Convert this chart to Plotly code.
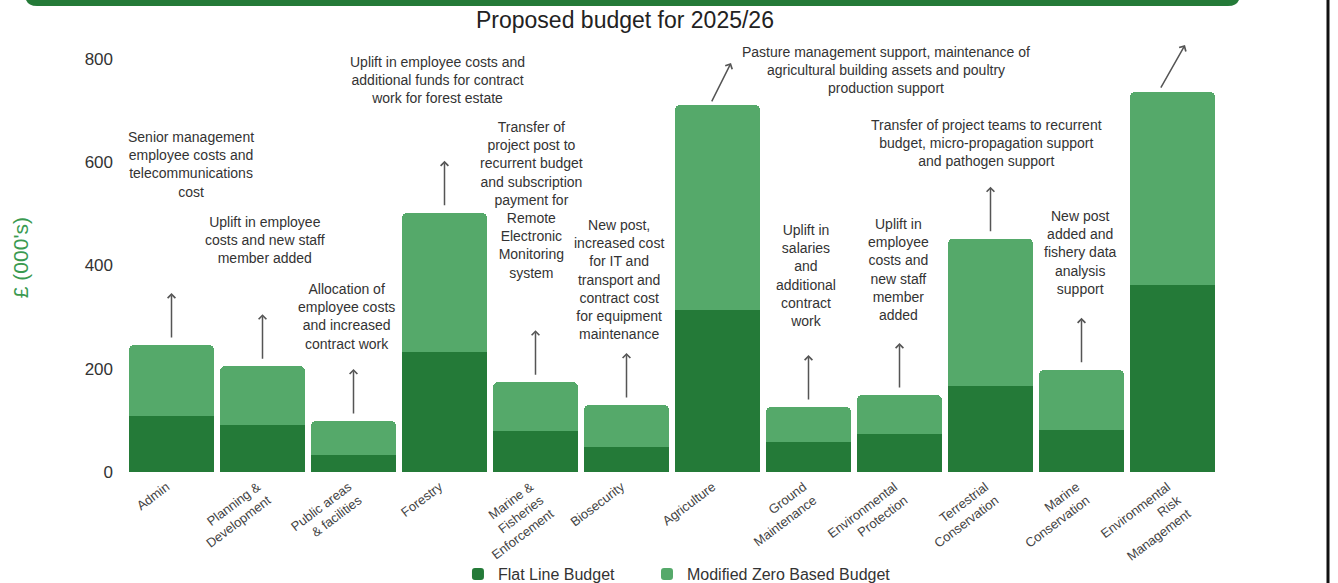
import plotly.graph_objects as go

categories = ["Admin", "Planning &<br>Development", "Public areas<br>& facilities", "Forestry",
              "Marine &<br>Fisheries<br>Enforcement", "Biosecurity", "Agriculture",
              "Ground<br>Maintenance", "Environmental<br>Protection", "Terrestrial<br>Conservation",
              "Marine<br>Conservation", "Environmental<br>Risk<br>Management"]
flat_line = [108, 91, 33, 232, 79, 48, 314, 58, 74, 167, 81, 362]
modified_zero = [138, 114, 66, 270, 95, 82, 397, 68, 75, 285, 117, 374]

notes = [
    "Senior management<br>employee costs and<br>telecommunications<br>cost",
    "Uplift in employee<br>costs and new staff<br>member added",
    "Allocation of<br>employee costs<br>and increased<br>contract work",
    "Uplift in employee costs and<br>additional funds for contract<br>work for forest estate",
    "Transfer of<br>project post to<br>recurrent budget<br>and subscription<br>payment for<br>Remote<br>Electronic<br>Monitoring<br>system",
    "New post,<br>increased cost<br>for IT and<br>transport and<br>contract cost<br>for equipment<br>maintenance",
    "Pasture management support, maintenance of<br>agricultural building assets and poultry<br>production support",
    "Uplift in<br>salaries<br>and<br>additional<br>contract<br>work",
    "Uplift in<br>employee<br>costs and<br>new staff<br>member<br>added",
    "Transfer of project teams to recurrent<br>budget, micro-propagation support<br>and pathogen support",
    "New post<br>added and<br>fishery data<br>analysis<br>support",
    "Increased overtime<br>budget and additional<br>transport",
]

# layout helpers (pixel offsets / label positions)
note_xshift = [19.5, 2, -7.5, -7, -4, -7.5, 168.5, -3, -1, -4, -1.5, 83.5]
note_y = [596.6, 449, 302, 759, 526, 373, 779, 381.6, 393, 638, 425, 838]
arrow_dx = [0, 0, 0, 0, 0, 0, 13.5, 0, 0, 0, 0, 12.5]
arrow_dy = [52, 52, 52, 52, 52, 52, 42, 52, 52, 52, 52, 47]
arrow_ax = [0, 0, 0, 0, 0, 0, -20, 0, 0, 0, 0, -25]
arrow_ay = [46, 46, 46, 46, 46, 46, 40, 46, 46, 46, 46, 44]

DARK = "#247a38"
LIGHT = "#55a96a"
FONT = "Liberation Sans, Arial, sans-serif"

fig = go.Figure()
fig.add_trace(go.Bar(x=categories, y=flat_line, name="Flat Line Budget", legend="legend",
                     marker=dict(color=DARK, line=dict(width=0))))
fig.add_trace(go.Bar(x=categories, y=modified_zero, name="Modified Zero Based Budget",
                     legend="legend2", marker=dict(color=LIGHT, line=dict(width=0))))

totals = [a + b for a, b in zip(flat_line, modified_zero)]
annotations = []
for i, cat in enumerate(categories):
    annotations.append(dict(x=cat, y=totals[i], xref="x", yref="y", text="",
                            showarrow=True, arrowhead=4, arrowsize=1, arrowwidth=1.5,
                            arrowcolor="#555555", ax=arrow_ax[i], ay=arrow_ay[i],
                            xshift=arrow_dx[i], yshift=arrow_dy[i]))
    annotations.append(dict(x=cat, y=note_y[i], xref="x", yref="y", text=notes[i],
                            showarrow=False, xshift=note_xshift[i], align="center",
                            xanchor="center", yanchor="middle",
                            font=dict(family=FONT, size=14, color="#333333")))

annotations.append(dict(x=0.457, y=1.094, xref="paper", yref="paper",
                        text="Proposed budget for 2025/26", showarrow=False,
                        xanchor="center", yanchor="middle",
                        font=dict(family=FONT, size=23, color="#222222")))
annotations.append(dict(x=-0.097, y=0.518, xref="paper", yref="paper",
                        text="£ (000's)", showarrow=False, textangle=-90,
                        xanchor="center", yanchor="middle",
                        font=dict(family=FONT, size=21, color="#3a9a50")))

shapes = [
    dict(type="path", xref="paper", yref="paper", xsizemode="pixel", ysizemode="pixel",
         xanchor=0, yanchor=1,
         path="M -101,90 L -101,65 Q -101,53 -89,53 L 1102,53 Q 1114,53 1114,65 L 1114,90 Z",
         fillcolor=DARK, line=dict(width=0)),
    dict(type="line", xref="paper", yref="paper", xsizemode="pixel", xanchor=0,
         x0=1202, x1=1202, y0=-0.4, y1=1.4, line=dict(color="#111111", width=3)),
]

legend_font = dict(family=FONT, size=16, color="#333333")
fig.update_layout(
    width=1338, height=583,
    margin=dict(l=126, r=120, t=59, b=111, autoexpand=False),
    barmode="stack", bargap=0.066, barcornerradius=5,
    plot_bgcolor="white", paper_bgcolor="white",
    font=dict(family=FONT, color="#333333"),
    showlegend=True,
    legend=dict(orientation="h", x=0.304, y=-0.247, xanchor="left", yanchor="middle",
                bgcolor="rgba(0,0,0,0)", font=legend_font),
    legend2=dict(orientation="h", x=0.4771, y=-0.247, xanchor="left", yanchor="middle",
                 bgcolor="rgba(0,0,0,0)", font=legend_font),
    annotations=annotations,
    shapes=shapes,
    xaxis=dict(range=[-0.5, 11.5], tickangle=-37, ticklabelstandoff=4, ticklabelshift=-5,
               tickfont=dict(family=FONT, size=13, color="#444444"),
               showgrid=False, showline=False, zeroline=False, ticks="", automargin=False),
    yaxis=dict(range=[0, 800], tickvals=[0, 200, 400, 600, 800], showgrid=False,
               showline=False, zeroline=False, ticks="", ticklabelstandoff=12, automargin=False,
               tickfont=dict(family=FONT, size=17, color="#333333")),
)

fig.write_html("out.html")
